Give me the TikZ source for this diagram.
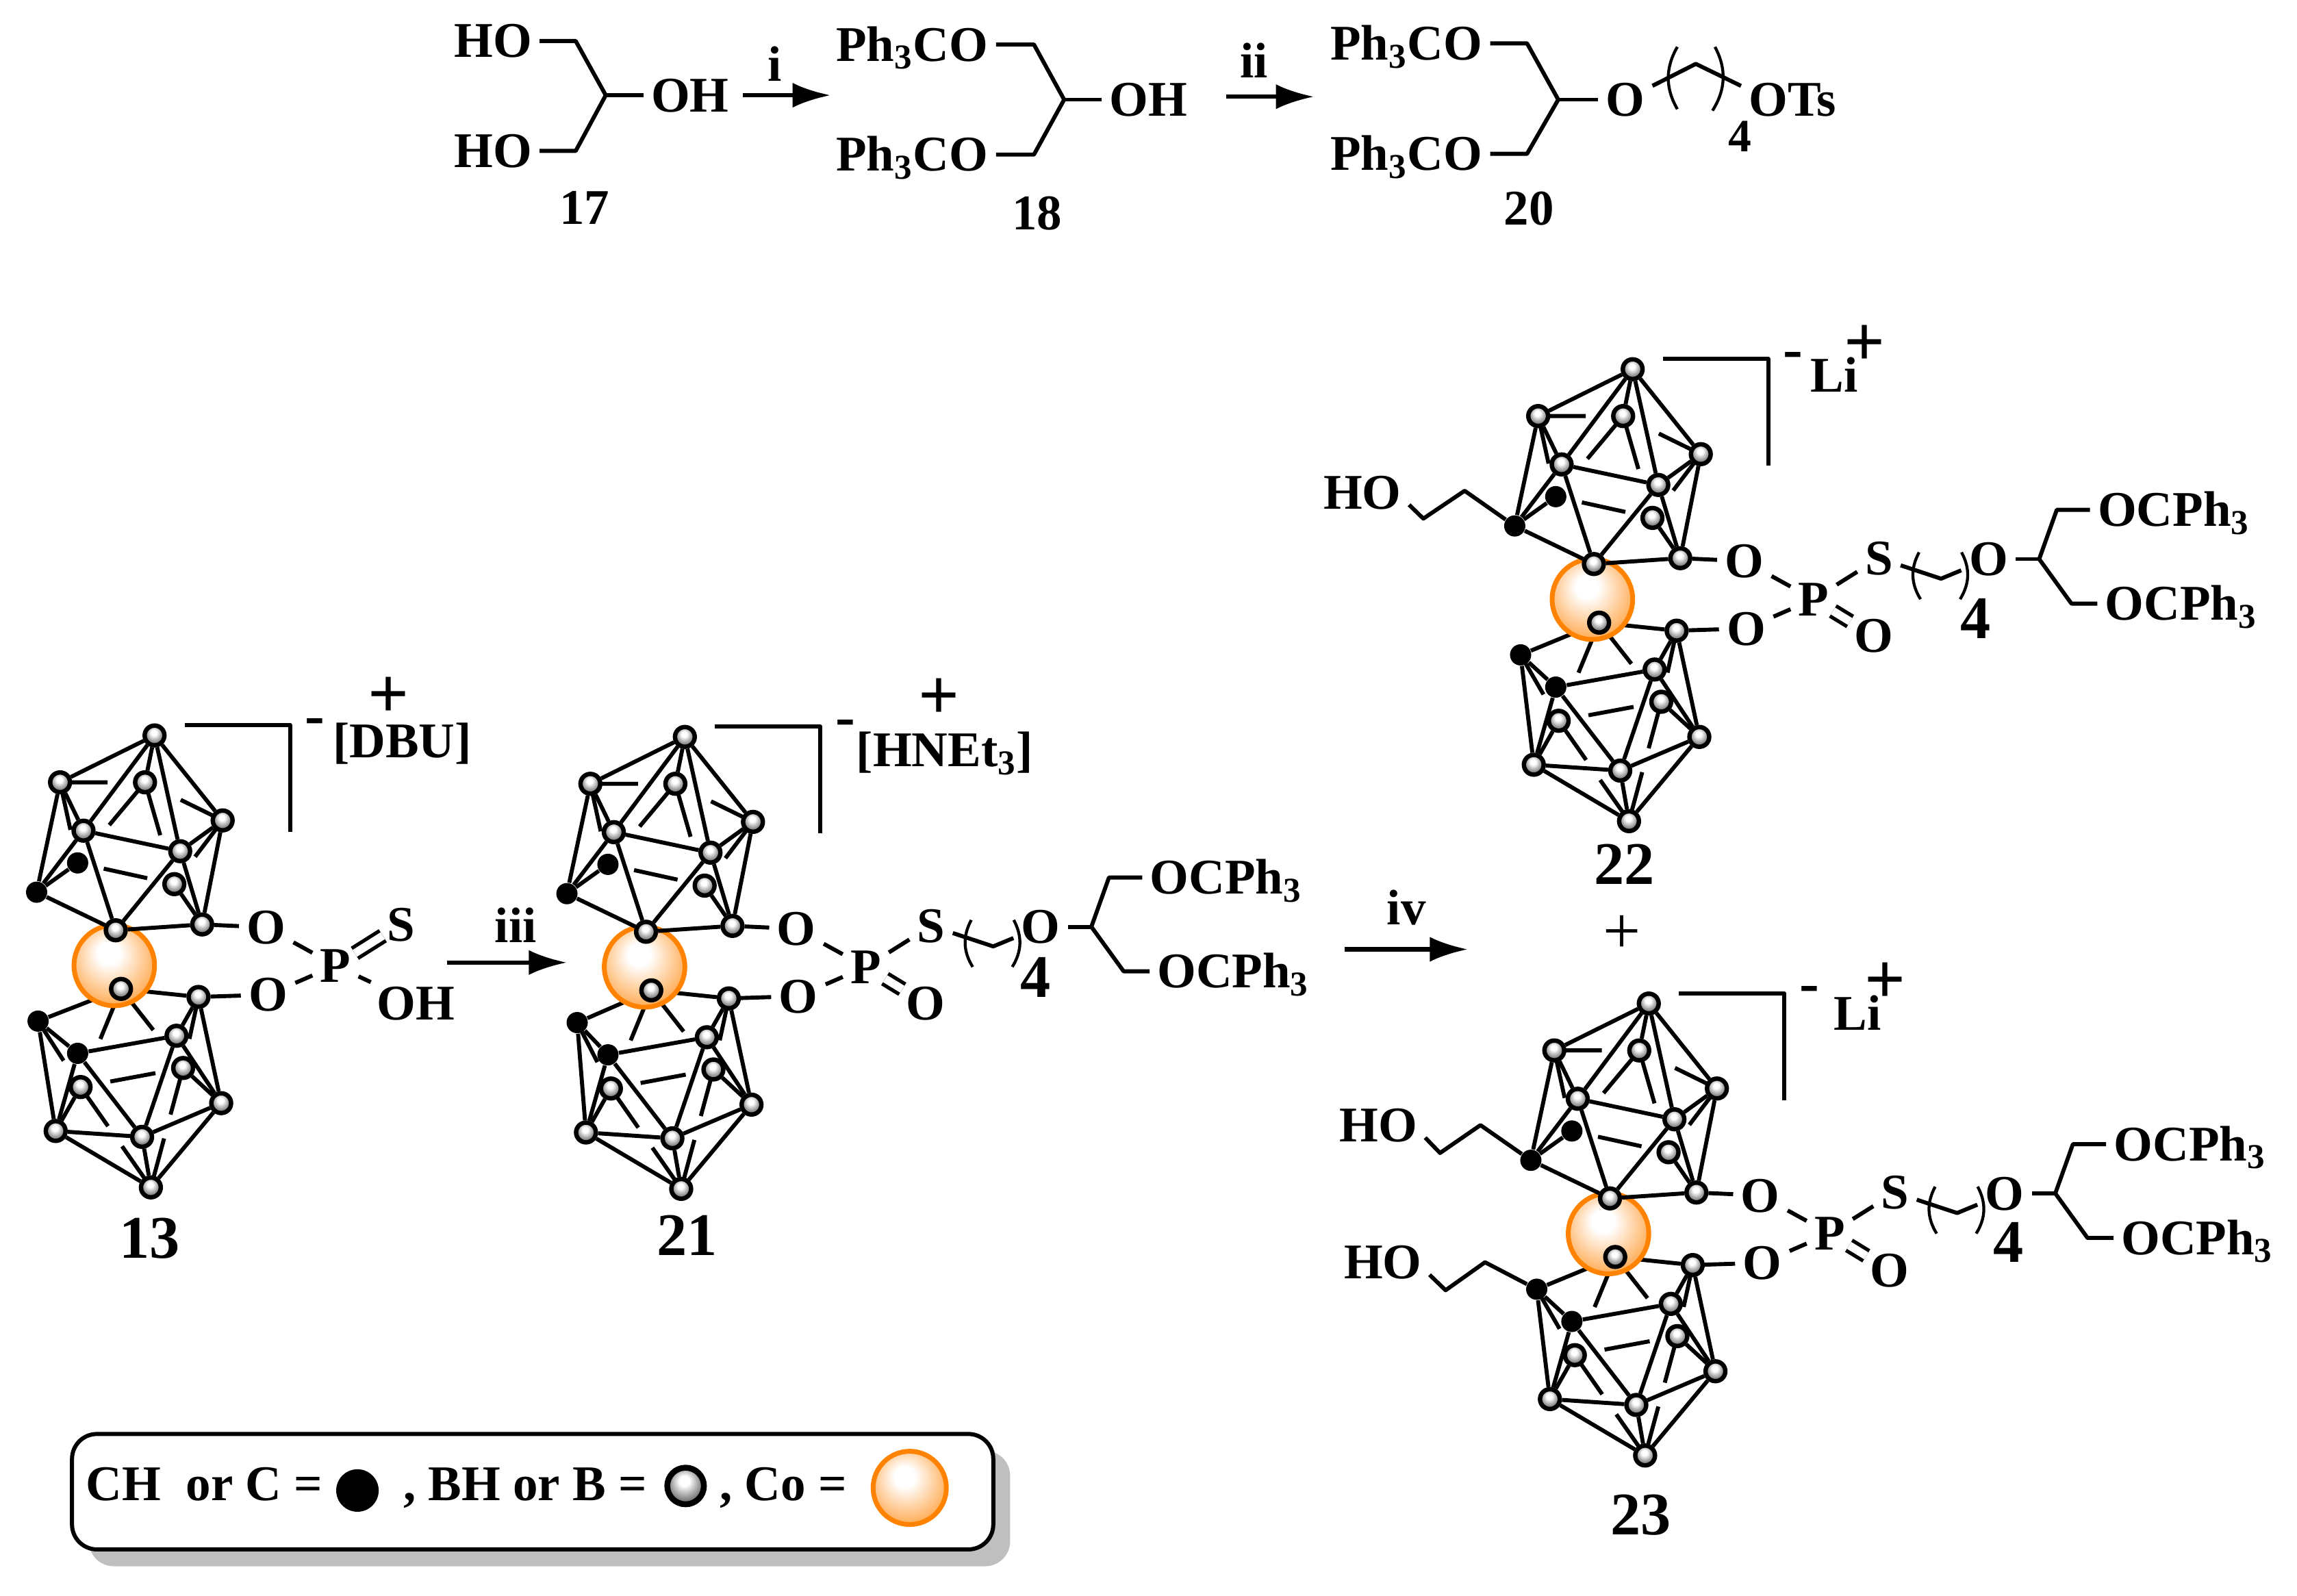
\documentclass[tikz,border=0pt]{standalone}
\usepackage{fontspec}
\setmainfont{Liberation Serif}
\usetikzlibrary{calc,arrows.meta,shadows}
\definecolor{coorange}{RGB}{255,130,0}
\pgfdeclareradialshading{boronball}{\pgfpoint{-2bp}{8bp}}{color(0bp)=(white);color(7bp)=(white);color(18bp)=(black!35);color(30bp)=(black!70);color(50bp)=(black!70)}
\pgfdeclareradialshading{cobaltball}{\pgfpoint{-4bp}{9bp}}{color(0bp)=(white);color(7bp)=(white);color(20bp)=(coorange!40!white);color(30bp)=(coorange!70!white);color(38bp)=(coorange!90!white);color(50bp)=(coorange)}
\tikzstyle{bond} = [line width=0.055cm,line join=round]
\tikzstyle{thinbond} = [line width=0.04cm]
\tikzstyle{dblbond} = [line width=0.05cm,double,double distance=0.11cm,shorten <=-0.06cm,shorten >=-0.06cm]
\tikzstyle{rxn} = [line width=0.06cm,-{Latex[length=0.52cm,width=0.34cm]}]
\tikzstyle{boron} = [circle,draw=black,line width=0.06cm,shading=boronball,minimum size=0.27cm,inner sep=0pt]
\tikzstyle{carbon} = [circle,fill=black,minimum size=0.29cm,inner sep=0pt]
\tikzstyle{cobalt} = [circle,draw=coorange,line width=0.065cm,shading=cobaltball,minimum size=1.1cm,inner sep=0pt]
\tikzstyle{chemlabel} = [font=\fontsize{19.4}{22}\selectfont\bfseries,text height=0.45cm,text depth=0pt,inner xsep=0.1cm,inner ysep=0.06cm]
\tikzstyle{compound} = [font=\fontsize{23.5}{26}\selectfont\bfseries,text height=0.55cm,text depth=0pt,inner sep=0pt]
\tikzstyle{smallfour} = [font=\fontsize{18}{20}\selectfont\bfseries,text height=0.42cm,text depth=0pt,inner sep=0pt]
\tikzstyle{charge} = [font=\fontsize{28}{30}\selectfont\bfseries,inner sep=0pt]
\tikzstyle{minus} = [font=\fontsize{23}{26}\selectfont\bfseries,inner sep=0pt]
\tikzstyle{legendbox} = [draw,rounded corners=0.34cm,line width=0.056cm,fill=white,minimum width=12.58cm,minimum height=1.576cm,inner sep=0pt,drop shadow={opacity=1,fill=black!25,shadow xshift=0.23cm,shadow yshift=-0.23cm}]
\pgfdeclarelayer{bondback}
\pgfdeclarelayer{metal}
\pgfdeclarelayer{bondfront}
\pgfsetlayers{bondback,metal,bondfront,main}

\begin{document}
\begin{tikzpicture}[x=0.02cm,y=-0.02cm]
\useasboundingbox (0,0) rectangle (1568,1089);
%%% Glycerol row
\node[chemlabel] (ho1) at (336.5,28) {HO};
\node[chemlabel] (ho2) at (336.5,103) {HO};
\node[chemlabel] (oh17) at (471,65) {OH};
\coordinate (hub17) at (413.5,65);
\draw[bond] (ho1) -- (393,28) -- (hub17) -- (393,103) -- (ho2);
\draw[bond] (hub17) -- (oh17);
\node[chemlabel] (lab17) at (399,142) {17};
\coordinate (ia) at (507,65);
\coordinate (ib) at (567,65);
\draw[rxn] (ia) -- (ib);
\node[chemlabel] (labi) at (529,44) {i};
\node[chemlabel] (tr1) at (622.7,30.4) {Ph\textsubscript{3}CO};
\node[chemlabel] (tr2) at (622.7,105.5) {Ph\textsubscript{3}CO};
\node[chemlabel] (oh18) at (784,68) {OH};
\coordinate (hub18) at (726.4,68);
\draw[bond] (tr1) -- (705.8,30.4) -- (hub18) -- (705.8,105.5) -- (tr2);
\draw[bond] (hub18) -- (oh18);
\node[chemlabel] (lab18) at (708,145.6) {18};
\coordinate (iia) at (837,66);
\coordinate (iib) at (897,66);
\draw[rxn] (iia) -- (iib);
\node[chemlabel] (labii) at (856,42) {ii};
\node[chemlabel] (tr3) at (960,29.6) {Ph\textsubscript{3}CO};
\node[chemlabel] (tr4) at (960,105) {Ph\textsubscript{3}CO};
\node[chemlabel] (o20) at (1109.4,68) {O};
\node[chemlabel] (ots) at (1223.5,68) {OTs};
\coordinate (hub20) at (1063.7,68);
\draw[bond] (tr3) -- (1042.4,29.6) -- (hub20) -- (1042.4,105) -- (tr4);
\draw[bond] (hub20) -- (o20);
\draw[bond] (o20) -- (1157.6,43.6) -- (ots.165);
\draw[thinbond] (1145,32) to[bend right=30] (1145,74.5);
\draw[thinbond] (1170.7,32) to[bend left=30] (1169,75.5);
\node[smallfour] (four20) at (1187.6,93) {4};
\node[chemlabel] (lab20) at (1043.7,142.5) {20};
%%% Cobalt bis(dicarbollide) cages
\foreach \cg/\dx/\dy/\cx in {13/-362/-1/388,21/0/0/394,22/647/-251/391,23/658/182/391} {
\begin{scope}[shift={(\dx,\dy)}]
    % Draw atoms
    \foreach \n/\px/\py in {t/467.5/503,l/403/535,m/461/535,r/514/561,p/419/568,q/485/582,u/481/604.5,v/441/636,w/500/632,A/444.6/676,B/497.5/681.5,E/482.5/708,F/487/730,G/417/743,H/513/754,I/400/773,J/459/777,K/465/811.5} {
        \node[boron] (c\cg\n) at (\px,\py) {};
    }
    \foreach \n/\px/\py in {k/387/610,d/415/590,C/\cx/698,D/415/720} {
        \node[carbon] (c\cg\n) at (\px,\py) {};
    }
    \begin{pgfonlayer}{metal}
    \node[cobalt] (c\cg Co) at (440,660) {};
    \end{pgfonlayer}
    % Draw phosphate
    \node[chemlabel] (c\cg oa) at (543.7,634) {O};
    \node[chemlabel] (c\cg ob) at (545,680) {O};
    \node[chemlabel] (c\cg P) at (591,660) {P};
    \node[chemlabel] (c\cg S) at (635.6,632) {S};
    \draw[bond] (c\cg w) -- (c\cg oa);
    \draw[bond] (c\cg B) -- (c\cg ob);
    \draw[bond] (c\cg oa) -- (c\cg P);
    \draw[bond] (c\cg ob) -- (c\cg P);
    % Draw bonds
    \begin{pgfonlayer}{bondfront}
    \foreach \na/\nb in {t/l,t/p,t/m,t/q,t/r,l/k,l/p,p/k,k/d,p/q,p/v,q/v,k/v,v/w,q/w,q/r,r/w,u/w} {
        \draw[bond] (c\cg\na) -- (c\cg\nb);
    }
    \foreach \na/\nb/\fs/\fe in {l/m/0/0.56,l/d/0/0.59,m/d/0/0.53,m/u/0/0.52,r/m/0/0.54,r/u/0/0.57,d/u/0.27/0.72} {
        \draw[bond] ($(c\cg\na.center)!\fs!(c\cg\nb.center)$) -- ($(c\cg\na.center)!\fe!(c\cg\nb.center)$);
    }
    \end{pgfonlayer}
    \begin{pgfonlayer}{bondback}
    \foreach \na/\nb in {A/B,C/A,D/E,D/C,C/I,D/I,D/J,E/J,E/B,E/H,B/H,J/H,I/J,I/K,J/K,H/K,G/I,F/H} {
        \draw[bond] (c\cg\na) -- (c\cg\nb);
    }
    \foreach \na/\nb/\fs/\fe in {A/G/0/0.51,A/F/0/0.52,C/G/0.1/0.6,G/K/0/0.39,K/G/0/0.41,F/K/0/0.39,K/F/0/0.41,B/F/0/0.59,G/F/0.29/0.73} {
        \draw[bond] ($(c\cg\na.center)!\fs!(c\cg\nb.center)$) -- ($(c\cg\na.center)!\fe!(c\cg\nb.center)$);
    }
    \end{pgfonlayer}
    % Draw bracket
    \draw[bond] (488,496) -- (560,496) -- (560,569);
    \node[minus] (c\cg neg) at (577,497) {-};
\end{scope}
}
%%% Side chains
\foreach \cg/\dx/\dy/\fx/\fy in {21/0/0/707/667,22/647/-251/701.5/673,23/658/182/713/666} {
\begin{scope}[shift={(\dx,\dy)}]
    \node[chemlabel] (c\cg dbo) at (632,685) {O};
    \node[chemlabel] (c\cg oe) at (710.4,632.6) {O};
    \node[compound] (c\cg four) at (\fx,\fy) {4};
    \node[chemlabel,anchor=west] (c\cg tra) at (779.7,599) {OCPh\textsubscript{3}};
    \node[chemlabel,anchor=west] (c\cg trb) at (784.7,663) {OCPh\textsubscript{3}};
    \coordinate (c\cg hub) at (745,632.6);
    \draw[bond] (c\cg P) -- (c\cg S);
    \draw[dblbond] (c\cg P) -- (c\cg dbo);
    \draw[bond] (c\cg S) -- (678,646) -- (c\cg oe);
    \draw[thinbond] (663,628) to[bend right=30] (664,660);
    \draw[thinbond] (692,628) to[bend left=30] (691,660);
    \draw[bond] (c\cg oe) -- (c\cg hub);
    \draw[bond] (c\cg hub) -- (757,599) -- (c\cg tra);
    \draw[bond] (c\cg hub) -- (767,663) -- (c\cg trb);
\end{scope}
}
%%% Cage 13 extras
\node[chemlabel] (oh13) at (284,685) {OH};
\draw[dblbond] (c13P) -- (c13S);
\draw[bond] (c13P) -- (oh13);
%%% Counter ions
\node[chemlabel] (dbu) at (274.5,506) {[DBU]};
\node[charge] (pos13) at (265,476) {+};
\node[chemlabel] (hnet) at (645,512) {[HNEt\textsubscript{3}]};
\node[charge] (pos21) at (641,477) {+};
\node[chemlabel] (li22) at (1252,256.5) {Li};
\node[charge] (pos22) at (1273,236) {+};
\node[chemlabel] (li23) at (1268,692) {Li};
\node[charge] (pos23) at (1287,671) {+};
%%% Hydroxyethyl arms
\node[chemlabel] (ho22) at (930,336) {HO};
\draw[bond] (c22k) -- (999.8,335) -- (971.6,354) -- (ho22.-15);
\node[chemlabel] (ho23a) at (941,768) {HO};
\draw[bond] (c23k) -- (1010.6,768) -- (983,787) -- (ho23a.-15);
\node[chemlabel] (ho23b) at (944,861.6) {HO};
\draw[bond] (c23C) -- (1013.7,861.6) -- (986.8,880.7) -- (ho23b.-15);
%%% Arrows and compound numbers
\coordinate (iiia) at (305,657);
\coordinate (iiib) at (387,657);
\draw[rxn] (iiia) -- (iiib);
\node[chemlabel] (labiii) at (352,632) {iii};
\coordinate (iva) at (918,648);
\coordinate (ivb) at (1002,648);
\draw[rxn] (iva) -- (ivb);
\node[chemlabel] (labiv) at (960,620) {iv};
\node[compound] (lab13) at (102,845) {13};
\node[compound] (lab21) at (469,843) {21};
\node[compound] (lab22) at (1109,590) {22};
\node[charge,font=\fontsize{26}{28}\selectfont] (plus) at (1107,638) {+};
\node[compound] (lab23) at (1120,1034) {23};
%%% Legend
\node[legendbox] (legend) at (363.6,1018.2) {};
\node[chemlabel,anchor=west] (legc) at (53.4,1013) {CH\ \ or C =};
\node[carbon,minimum size=0.58cm] (legcdot) at (244,1017.4) {};
\node[chemlabel,anchor=west] (legb) at (270,1013) {, BH or B =};
\node[boron,minimum size=0.5cm,line width=0.08cm] (legbdot) at (468,1014.3) {};
\node[chemlabel,anchor=west] (legco) at (486,1013) {, Co =};
\node[cobalt,minimum size=1cm] (legcodot) at (621,1015.6) {};
\end{tikzpicture}
\end{document}
